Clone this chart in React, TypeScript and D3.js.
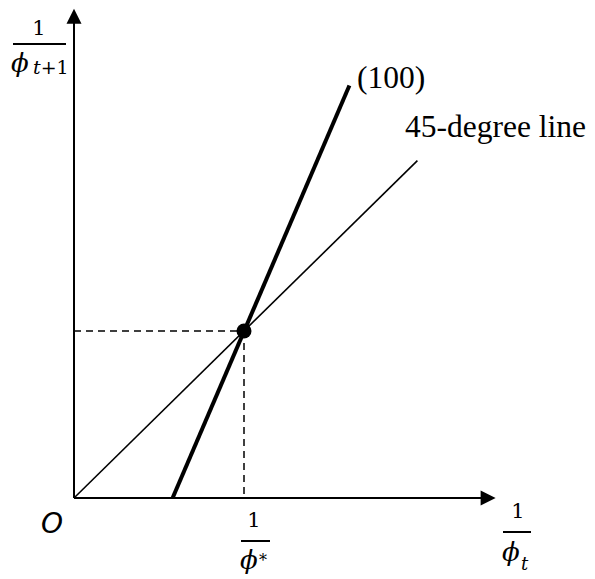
import React from "react";
import * as d3 from "d3";

// ---- data (in model units: 1/phi_t on x, 1/phi_{t+1} on y) ----
const axisExtentX = [0, 2.48];
const axisExtentY = [0, 2.93];
const line45 = [
  { x: 0, y: 0 },
  { x: 2.02, y: 2.02 },
];
const line100 = [
  { x: 0.58, y: 0 },
  { x: 1.62, y: 2.47 },
];
const steadyState = { x: 1, y: 1 };
const labels = { line100: "(100)", line45: "45-degree line", origin: "O" };

const W = 595;
const H = 579;

export default function App() {
  const x = d3.scaleLinear().domain([0, 1]).range([74, 244]);
  const y = d3.scaleLinear().domain([0, 1]).range([498, 331]);
  const line = d3
    .line<{ x: number; y: number }>()
    .x((d) => x(d.x))
    .y((d) => y(d.y));

  const x0 = x(0);
  const y0 = y(0);
  const xTip = x(axisExtentX[1]);
  const yTip = y(axisExtentY[1]);
  const mathFont = "'DejaVu Serif', serif";
  const numFont = "'Liberation Serif', 'Times New Roman', serif";

  return (
    <svg
      width={W}
      height={H}
      style={{ position: "absolute", left: 0, top: 0, background: "#fff" }}
    >
      {/* axes */}
      <line x1={x0} y1={y0} x2={x0} y2={yTip + 14} stroke="#000" strokeWidth={2} />
      <path
        d={`M${x0},${yTip} L${x0 - 7.5},${yTip + 15} L${x0 + 7.5},${yTip + 15} Z`}
        fill="#000"
      />
      <line x1={x0} y1={y0} x2={xTip - 14} y2={y0} stroke="#000" strokeWidth={2} />
      <path
        d={`M${xTip},${y0} L${xTip - 15},${y0 - 7.5} L${xTip - 15},${y0 + 7.5} Z`}
        fill="#000"
      />

      {/* dashed guides */}
      <line
        x1={x0}
        y1={y(steadyState.y)}
        x2={x(steadyState.x)}
        y2={y(steadyState.y)}
        stroke="#000"
        strokeWidth={1.5}
        strokeDasharray="7,5"
      />
      <line
        x1={x(steadyState.x)}
        y1={y(steadyState.y)}
        x2={x(steadyState.x)}
        y2={y0}
        stroke="#000"
        strokeWidth={1.5}
        strokeDasharray="7,5"
      />

      {/* lines */}
      <path d={line(line45) || ""} fill="none" stroke="#000" strokeWidth={1.6} />
      <path d={line(line100) || ""} fill="none" stroke="#000" strokeWidth={4} />
      <circle cx={x(steadyState.x)} cy={y(steadyState.y)} r={7.5} fill="#000" />

      {/* line labels */}
      <text x={357} y={88} fontFamily={numFont} fontSize={31.5}>
        {labels.line100}
      </text>
      <text x={405} y={137} fontFamily={numFont} fontSize={31.5}>
        {labels.line45}
      </text>

      {/* origin */}
      <text x={41} y={533} fontFamily="'DejaVu Sans', sans-serif" fontStyle="italic" fontSize={28}>
        {labels.origin}
      </text>

      {/* y-axis label 1/phi_{t+1} */}
      <text x={39} y={35} textAnchor="middle" fontFamily={mathFont} fontSize={21}>
        1
      </text>
      <line x1={13} x2={66} y1={44} y2={44} stroke="#000" strokeWidth={2} />
      <text x={11} y={72} fontFamily={mathFont} fontStyle="italic" fontSize={26}>
        ϕ
      </text>
      <text x={33} y={74} fontFamily={mathFont} fontSize={19}>
        <tspan fontStyle="italic">t</tspan>+1
      </text>

      {/* x-axis label 1/phi_t */}
      <text x={518} y={518} textAnchor="middle" fontFamily={mathFont} fontSize={21}>
        1
      </text>
      <line x1={503} x2={531} y1={532} y2={532} stroke="#000" strokeWidth={2} />
      <text x={502} y={561} fontFamily={mathFont} fontStyle="italic" fontSize={26}>
        ϕ
      </text>
      <text x={521} y={570} fontFamily={mathFont} fontStyle="italic" fontSize={18}>
        t
      </text>

      {/* tick label 1/phi* */}
      <text x={254} y={527} textAnchor="middle" fontFamily={mathFont} fontSize={21}>
        1
      </text>
      <line x1={241} x2={270} y1={541} y2={541} stroke="#000" strokeWidth={2} />
      <text x={240} y={569} fontFamily={mathFont} fontStyle="italic" fontSize={26}>
        ϕ
      </text>
      <text x={259} y={566} fontFamily={mathFont} fontSize={16}>
        *
      </text>
    </svg>
  );
}
